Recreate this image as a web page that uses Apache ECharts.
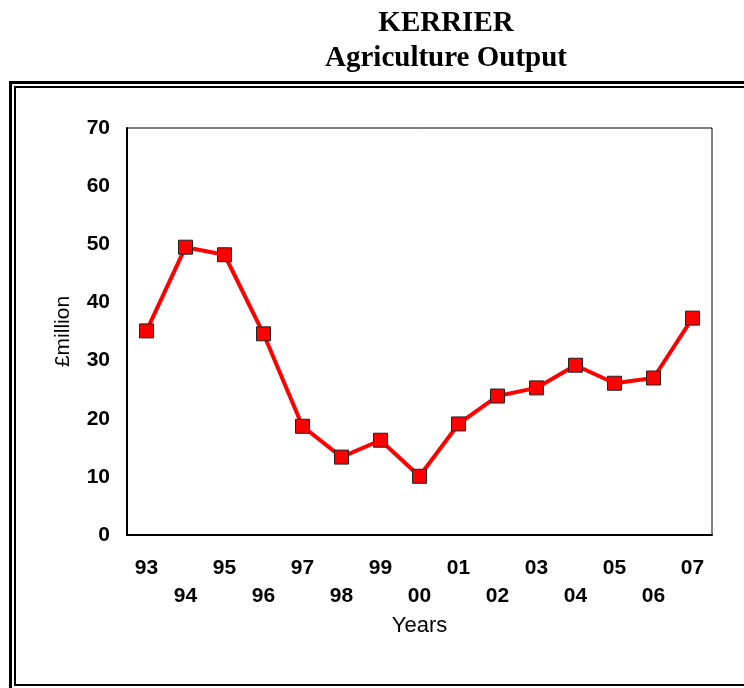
<!DOCTYPE html>
<html><head><meta charset="utf-8">
<script src="https://cdn.jsdelivr.net/npm/echarts@6/dist/echarts.min.js"></script>
<style>html,body{margin:0;padding:0;background:#fff}#c{width:744px;height:688px}</style>
</head><body><div id="c"></div>
<script>
const years = ['93','94','95','96','97','98','99','00','01','02','03','04','05','06','07'];
const output = [35.1, 49.5, 48.2, 34.6, 18.7, 13.4, 16.3, 10.1, 19.1, 23.9, 25.3, 29.2, 26.1, 27.0, 37.3];
const yTicks = {min: 0, max: 70, interval: 10};

const chart = echarts.init(document.getElementById('c'), null, {renderer: 'canvas'});
chart.setOption({
  animation: false,
  backgroundColor: '#fff',
  title: {
    text: 'KERRIER\nAgriculture Output',
    left: 441, top: 1, textAlign: 'center',
    textStyle: {fontFamily: 'Liberation Serif', fontWeight: 'bold', fontSize: 29, lineHeight: 35, color: '#000'}
  },
  graphic: [
    {type: 'rect', shape: {x: 10.5, y: 82.5, width: 800, height: 700}, style: {fill: null, stroke: '#000', lineWidth: 3}, silent: true},
    {type: 'rect', shape: {x: 15, y: 87, width: 800, height: 598}, style: {fill: null, stroke: '#000', lineWidth: 2}, silent: true}
  ],
  grid: {left: 127, top: 128, width: 585, height: 407, show: true, borderColor: '#000', borderWidth: 1, backgroundColor: 'transparent'},
  xAxis: {
    type: 'category', data: years, boundaryGap: true,
    axisLine: {lineStyle: {color: '#000', width: 2}},
    axisTick: {show: false},
    axisLabel: {
      interval: 0, margin: 19, color: '#000', fontFamily: 'Liberation Sans', fontWeight: 'bold', fontSize: 21, lineHeight: 28,
      formatter: (v, i) => (i % 2 ? '\n' + v : v)
    },
    name: 'Years', nameLocation: 'middle', nameGap: 80,
    nameTextStyle: {color: '#000', fontFamily: 'Liberation Sans', fontSize: 22}
  },
  yAxis: {
    type: 'value', min: yTicks.min, max: yTicks.max, interval: yTicks.interval,
    axisLine: {show: true, lineStyle: {color: '#000', width: 2}},
    axisTick: {show: false},
    splitLine: {show: false},
    axisLabel: {margin: 17, color: '#000', fontFamily: 'Liberation Sans', fontWeight: 'bold', fontSize: 21},
    name: '£million', nameLocation: 'middle', nameGap: 53, nameRotate: 90,
    nameTextStyle: {color: '#000', fontFamily: 'Liberation Sans', fontSize: 21}
  },
  series: [{
    type: 'line', data: output,
    lineStyle: {color: '#ff0000', width: 4},
    symbol: 'rect', symbolSize: 14,
    itemStyle: {color: '#ff0000', borderColor: '#222', borderWidth: 1},
    z: 3
  }]
});
</script></body></html>
